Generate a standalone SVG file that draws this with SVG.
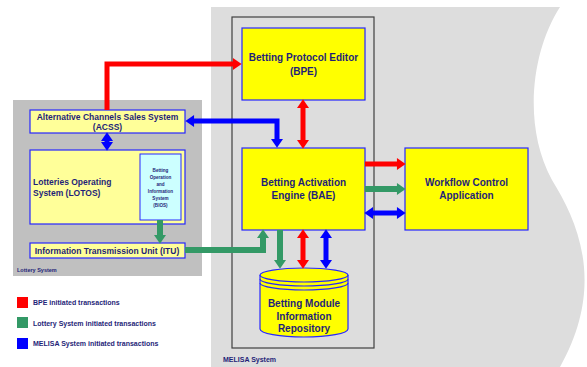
<svg xmlns="http://www.w3.org/2000/svg" width="587" height="367" viewBox="0 0 587 367">
<style>
.t{font-family:"Liberation Sans",Arial,sans-serif;font-weight:bold;fill:#1f1f78;}
.box{fill:#ffff00;stroke:#2626ff;stroke-width:1.2;}
.lbox{fill:#ffff99;stroke:#2626ff;stroke-width:1.2;}
.r{stroke:#ff0000;stroke-width:5;fill:none;}
.g{stroke:#339966;stroke-width:6;fill:none;}
.b{stroke:#0000ff;stroke-width:5;fill:none;}
</style>
<defs>
<marker id="aR" markerUnits="userSpaceOnUse" markerWidth="10" markerHeight="12" refX="1" refY="5.5" orient="auto-start-reverse" viewBox="0 0 8 11"><path d="M0,0 L8,5.5 L0,11 z" fill="#ff0000"/></marker>
<marker id="aG" markerUnits="userSpaceOnUse" markerWidth="10" markerHeight="12" refX="1" refY="5.5" orient="auto-start-reverse" viewBox="0 0 8 11"><path d="M0,0 L8,5.5 L0,11 z" fill="#339966"/></marker>
<marker id="aB" markerUnits="userSpaceOnUse" markerWidth="10" markerHeight="12" refX="1" refY="5.5" orient="auto-start-reverse" viewBox="0 0 8 11"><path d="M0,0 L8,5.5 L0,11 z" fill="#0000ff"/></marker>
</defs>
<rect width="587" height="367" fill="#ffffff"/>
<g id="melisa-system">
<path d="M211,7 L560,7 C532,50 522,125 552,180 C578,222 606,285 560,367 L211,367 Z" fill="#dddddd"/>
<rect x="232" y="17" width="142" height="331" fill="none" stroke="#404040" stroke-width="1.2"/>
<text class="t" x="223" y="361.5" font-size="7">MELISA System</text>
</g>
<g id="lottery-system">
<rect x="13" y="100" width="189" height="176" fill="#c0c0c0"/>
<text class="t" x="17" y="272" font-size="5.5">Lottery System</text>
</g>
<g id="acss">
<rect class="lbox" x="30" y="110" width="155" height="23"/>
<text class="t" x="107.5" y="119.5" font-size="8.5" text-anchor="middle">Alternative Channels Sales System</text>
<text class="t" x="107.5" y="130" font-size="8.5" text-anchor="middle">(ACSS)</text>
</g>
<g id="lotos">
<rect class="lbox" x="30" y="150" width="155" height="74"/>
<text class="t" x="33" y="185" font-size="8.5">Lotteries Operating</text>
<text class="t" x="33" y="195.5" font-size="8.5">System (LOTOS)</text>
</g>
<g id="bios">
<rect x="140" y="154" width="41" height="66" fill="#ccffff" stroke="#2626ff" stroke-width="1"/>
<g class="t" font-size="4.6" text-anchor="middle">
<text x="160.5" y="171.5">Betting</text>
<text x="160.5" y="178.5">Operation</text>
<text x="160.5" y="185.5">and</text>
<text x="160.5" y="192.5">Information</text>
<text x="160.5" y="199.5">System</text>
<text x="160.5" y="206.5">(BIOS)</text>
</g>
</g>
<g id="itu">
<rect class="lbox" x="30" y="243" width="155" height="15"/>
<text class="t" x="107" y="253.5" font-size="8.5" text-anchor="middle">Information Transmission Unit (ITU)</text>
</g>
<g id="bpe">
<rect class="box" x="242" y="28" width="123" height="72"/>
<text class="t" x="303.5" y="61" font-size="10" text-anchor="middle">Betting Protocol Editor</text>
<text class="t" x="303.5" y="75" font-size="10" text-anchor="middle">(BPE)</text>
</g>
<g id="bae">
<rect class="box" x="242" y="148" width="123" height="82"/>
<text class="t" x="303.5" y="186" font-size="10" text-anchor="middle">Betting Activation</text>
<text class="t" x="303.5" y="199" font-size="10" text-anchor="middle">Engine (BAE)</text>
</g>
<g id="wca">
<rect class="box" x="405" y="148" width="123" height="82"/>
<text class="t" x="466.5" y="186" font-size="10" text-anchor="middle">Workflow Control</text>
<text class="t" x="466.5" y="199" font-size="10" text-anchor="middle">Application</text>
</g>
<g id="bmir">
<path d="M260,275 V329 A44,8 0 0 0 348,329 V275" fill="#ffff00" stroke="#2626ff" stroke-width="1.2"/>
<ellipse cx="304" cy="275" rx="44" ry="7" fill="#ffff00" stroke="#2626ff" stroke-width="1.2"/>
<path d="M260,279 A44,7 0 0 0 348,279 M260,283 A44,7 0 0 0 348,283" fill="none" stroke="#2626ff" stroke-width="1.2"/>
<text class="t" x="304" y="306.5" font-size="10" text-anchor="middle">Betting Module</text>
<text class="t" x="304" y="319.5" font-size="10" text-anchor="middle">Information</text>
<text class="t" x="304" y="332" font-size="10" text-anchor="middle">Repository</text>
</g>
<g id="connectors">
<path class="r" d="M107,110 V64 H234" marker-end="url(#aR)"/>
<path class="b" d="M277,140 V121 H193" marker-start="url(#aB)" marker-end="url(#aB)"/>
<path class="r" d="M303,107 V141" marker-start="url(#aR)" marker-end="url(#aR)"/>
<path class="b" d="M107,140 V143" marker-start="url(#aB)" marker-end="url(#aB)"/>
<path class="g" d="M160,220 V236" marker-end="url(#aG)"/>
<path class="g" d="M185,250 H263 V237" marker-end="url(#aG)"/>
<path class="g" d="M280,230 V261" marker-end="url(#aG)"/>
<path class="r" d="M303,237 V261" marker-start="url(#aR)" marker-end="url(#aR)"/>
<path class="b" d="M326,237 V261" marker-start="url(#aB)" marker-end="url(#aB)"/>
<path class="r" d="M365,164 H398" marker-end="url(#aR)"/>
<path class="g" d="M365,189 H398" marker-end="url(#aG)"/>
<path class="b" d="M372,213 H398" marker-start="url(#aB)" marker-end="url(#aB)"/>
</g>
<g id="legend">
<rect x="17" y="297" width="11" height="11" fill="#ff0000"/>
<rect x="17" y="317" width="11" height="11" fill="#339966"/>
<rect x="17" y="338" width="11" height="11" fill="#0000ff"/>
<text class="t" x="33" y="304.5" font-size="7">BPE initiated transactions</text>
<text class="t" x="33" y="325.5" font-size="7">Lottery System initiated transactions</text>
<text class="t" x="33" y="345.5" font-size="7">MELISA System initiated transactions</text>
</g>
</svg>
